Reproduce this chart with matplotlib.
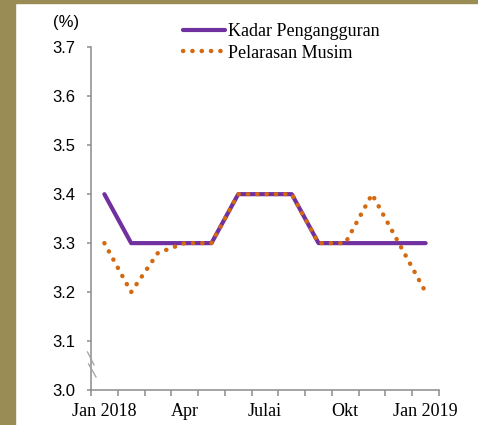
import numpy as np
import matplotlib
matplotlib.use('Agg')
import matplotlib.pyplot as plt

# monthly data, Jan 2018 - Jan 2019
months = ['Jan 2018', 'Feb', 'Mac', 'Apr', 'Mei', 'Jun', 'Julai',
          'Ogo', 'Sep', 'Okt', 'Nov', 'Dis', 'Jan 2019']
kadar = [3.4, 3.3, 3.3, 3.3, 3.3, 3.4, 3.4, 3.4, 3.3, 3.3, 3.3, 3.3, 3.3]
pelarasan = [3.3, 3.2, 3.28, 3.3, 3.3, 3.4, 3.4, 3.4, 3.3, 3.3, 3.4, 3.3, 3.2]
shown_labels = {0: 'Jan 2018', 3: 'Apr', 6: 'Julai', 9: 'Okt', 12: 'Jan 2019'}
yticks = [3.0, 3.1, 3.2, 3.3, 3.4, 3.5, 3.6, 3.7]

grey = '#8c8c8c'
purple = '#7030a0'
orange = '#d4690f'
olive = '#9a8c55'

fig = plt.figure(figsize=(4.78, 4.25), dpi=100)
fig.patch.set_facecolor('white')

# olive frame strips (left and top)
fig.patches.append(plt.Rectangle((0, 0), 15 / 478, 1, transform=fig.transFigure,
                                 color=olive, zorder=0))
fig.patches.append(plt.Rectangle((0, 1 - 3 / 425), 1, 3 / 425, transform=fig.transFigure,
                                 color=olive, zorder=0))

ax = fig.add_axes([91 / 478, 35 / 425, 348 / 478, 342.7 / 425])

x = np.arange(len(months))
ax.plot(x, kadar, color=purple, lw=3, solid_capstyle='round',
        label='Kadar Pengangguran', zorder=3)
ax.plot(x, pelarasan, color=orange, lw=3.2, linestyle=(0, (0.05, 2.05)),
        dash_capstyle='round', label='Pelarasan Musim', zorder=4)

ax.set_xlim(-0.5, len(months) - 0.5)
ax.set_ylim(3.0, 3.7)

for side in ['top', 'right']:
    ax.spines[side].set_visible(False)
for side in ['left', 'bottom']:
    ax.spines[side].set_color(grey)
    ax.spines[side].set_linewidth(1.1)

ax.set_yticks(yticks)
ax.set_yticklabels(['%.1f' % v for v in yticks], fontfamily='Liberation Sans', fontsize=12)
ax.tick_params(axis='y', direction='out', length=3, width=1.1, color=grey, pad=8)

ax.set_xticks(list(shown_labels.keys()))
ax.set_xticklabels(list(shown_labels.values()), fontfamily='Liberation Serif', fontsize=13)
ax.set_xticks(np.arange(-0.5, len(months)), minor=True)
ax.tick_params(axis='x', which='major', length=0, pad=9)
ax.tick_params(axis='x', which='minor', direction='out', length=4.3, width=1.1, color=grey)

# axis break marks
for (x0, y0, x1, y1) in [(-0.010, 0.111, 0.0086, 0.073), (-0.0072, 0.076, 0.0144, 0.038)]:
    ax.plot([x0, x1], [y0, y1], transform=ax.transAxes, color='#a0a0a0', lw=0.9,
            clip_on=False, zorder=5)

fig.text(66 / 478, 1 - 22 / 425, '(%)', fontfamily='Liberation Sans', fontsize=12,
         ha='center', va='center')

fig.legend(loc='upper left', bbox_to_anchor=(183 / 478, 1 - 23 / 425), frameon=False,
           borderpad=0, borderaxespad=0, handlelength=2.35, handletextpad=0.15,
           labelspacing=0.25, prop={'family': 'Liberation Serif', 'size': 13})

fig.savefig('out.png', dpi=100, facecolor='white')
